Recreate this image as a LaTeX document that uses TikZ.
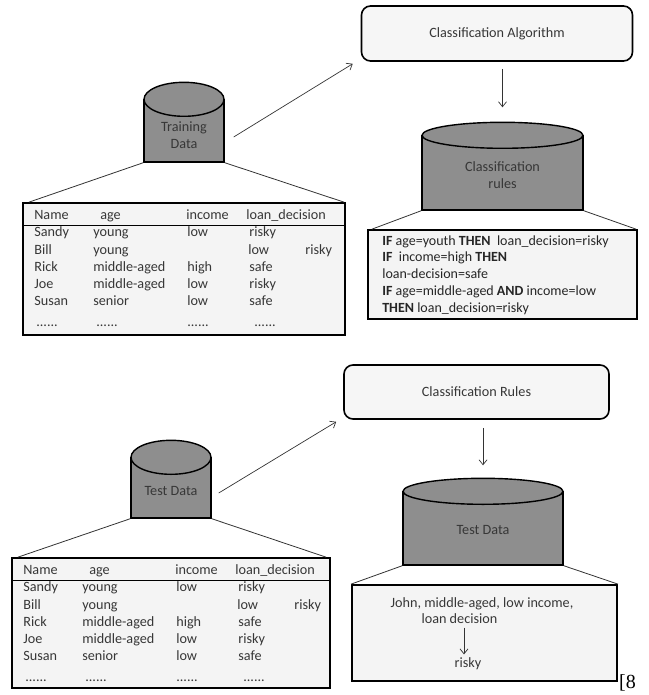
\documentclass[tikz,border=0pt]{standalone}
\usepackage{fontspec}
\setmainfont{Carlito}
\newfontfamily\refserif{Liberation Serif}
\usetikzlibrary{arrows.meta}
\definecolor{dbgray}{RGB}{142,142,142}
\definecolor{boxgray}{RGB}{246,246,246}
\definecolor{tablegray}{RGB}{244,244,244}
\definecolor{txtgray}{RGB}{55,55,55}
\newcommand{\boxfont}{\fontsize{14.2}{16.8}\selectfont}
% top ellipse of a database drum
\newcommand{\dbtop}[3]{\draw[line width=1.4pt, fill=dbgray] (#1.north) ellipse [x radius=#2pt, y radius=#3pt];}
% contents of the loan table, from the upper left corner of the frame #1
\newcommand{\loantable}[2]{%
  \begin{scope}[shift={(#1.north west)}]
    \foreach \txt/\x [count=\k] in {Name/12, age/78, income/164, loan\_decision/224}
      \node[cell] (#2h\k) at (\x,14) {\txt};
    \draw[sepline] (#1.west |- 0,23.5) -- (#1.east |- 0,23.5);
    \foreach \nm/\ag/\inc/\dec/\y [count=\k] in {Sandy/young/low/risky/31, Rick/middle-aged/high/safe/66,
        Joe/middle-aged/low/risky/83, Susan/senior/low/safe/100} {
      \node[cell] (#2n\k) at (12,\y) {\nm};
      \node[cell] (#2a\k) at (71,\y) {\ag};
      \node[cell] (#2i\k) at (165,\y) {\inc};
      \node[cell] (#2d\k) at (227,\y) {\dec};
    }
    % odd row
    \node[cell] (#2bn) at (12,49) {Bill};
    \node[cell] (#2ba) at (71,49) {young};
    \node[cell] (#2bl) at (226,49) {low};
    \node[cell] (#2br) at (283,49) {risky};
    \foreach \x [count=\k] in {14,74,165,232}
      \node[cell] (#2dots\k) at (\x,121) {......};
  \end{scope}}

\begin{document}
\begin{tikzpicture}[x=1pt, y=-1pt,
    every node/.style={font=\boxfont, text=txtgray},
    algbox/.style={draw, line width=1.6pt, rounded corners=9pt, fill=boxgray},
    dbbody/.style={draw, line width=1.4pt, fill=dbgray},
    tablebox/.style={draw, line width=1.8pt, fill=tablegray},
    cell/.style={anchor=west, inner sep=0pt, text height=9.5pt, text depth=3.2pt},
    sepline/.style={line width=1.6pt},
    arr/.style={-{Straight Barb[length=5pt,width=8pt]}, line width=0.7pt, draw=black!80},
    link/.style={line width=0.8pt, draw=black!80}]
  \useasboundingbox (0,0) rectangle (648,695);

  % learning step
  \node[algbox, minimum width=271pt, minimum height=55pt] (alg) at (497,33.5) {Classification Algorithm};
  \node[dbbody, minimum width=80pt, minimum height=62pt] (train) at (184,131) {};
  \dbtop{train}{40}{17}
  \node[align=center] (trainlbl) at ([shift={(0,4)}]train.center) {Training\\Data};
  \node[dbbody, minimum width=161pt, minimum height=74pt] (clr) at (502.5,173) {};
  \dbtop{clr}{80.5}{13}
  \node[align=center] (clrlbl) at ([shift={(0,2)}]clr.center) {Classification\\rules};
  \node[tablebox, minimum width=322pt, minimum height=132pt] (tbl) at (184,269) {};
  \loantable{tbl}{a}
  \node[tablebox, minimum width=269pt, minimum height=89pt] (rls) at (502.5,274.5) {};
  \node[anchor=north west, align=left, inner sep=0pt, text=black!85, font=\fontsize{14}{16.8}\selectfont]
    (rlstxt) at ([shift={(15,6)}]rls.north west)
    {\textbf{IF} age=youth \textbf{THEN}\ \ loan\_decision=risky\\
     \textbf{IF}\ \ income=high \textbf{THEN}\\
     loan-decision=safe\\
     \textbf{IF} age=middle-aged \textbf{AND} income=low\\
     \textbf{THEN} loan\_decision=risky};
  \draw[arr] ([shift={(9,6)}]train.east) -- ([shift={(-8,2)}]alg.south west);
  \draw[arr] ([shift={(5.5,7)}]alg.south) -- ([shift={(0,-28)}]clr.north);
  \draw[link] (train.south west) -- ([shift={(7,0)}]tbl.north west);
  \draw[link] (train.south east) -- ([shift={(-2,0)}]tbl.north east);
  \draw[link] (clr.south west) -- ([shift={(5,0)}]rls.north west);
  \draw[link] (clr.south east) -- ([shift={(-2,0)}]rls.north east);

  % classification step
  \node[algbox, minimum width=265pt, minimum height=54pt] (clr2) at (476.5,392) {Classification Rules};
  \node[dbbody, minimum width=80pt, minimum height=60pt] (test) at (171,488) {};
  \dbtop{test}{40}{17}
  \node (testlbl) at ([shift={(0,3)}]test.center) {Test Data};
  \node[dbbody, minimum width=160pt, minimum height=73pt] (test2) at (483,528.5) {};
  \dbtop{test2}{80}{13}
  \node (test2lbl) at ([shift={(0,1.5)}]test2.center) {Test Data};
  \node[tablebox, minimum width=318pt, minimum height=130pt] (tbl2) at (171,623) {};
  \loantable{tbl2}{b}
  \node[tablebox, minimum width=265pt, minimum height=96pt] (pred) at (484.5,633) {};
  \node (john) at (482,604) {John, middle-aged, low income,};
  \node[anchor=west] (ldec) at (418,619) {loan decision};
  \node (risky) at (468,664) {risky};
  \draw[arr] ([xshift=-4pt]risky.north |- ldec.south) -- ([xshift=-4pt]risky.north);
  \draw[arr] ([shift={(7,5)}]test.east) -- ([shift={(-7,2)}]clr2.south west);
  \draw[arr] ([shift={(6.5,8)}]clr2.south) -- ([shift={(0,-26)}]test2.north);
  \draw[link] (test.south west) -- ([shift={(7,0)}]tbl2.north west);
  \draw[link] (test.south east) -- ([shift={(-5,0)}]tbl2.north east);
  \draw[link] (test2.south west) -- (pred.north west);
  \draw[link] (test2.south east) -- (pred.north east);

  \node[anchor=west, inner sep=0pt, text=black, font=\refserif\fontsize{20}{20}\selectfont] (cite) at (619,683) {[8};
\end{tikzpicture}
\end{document}
